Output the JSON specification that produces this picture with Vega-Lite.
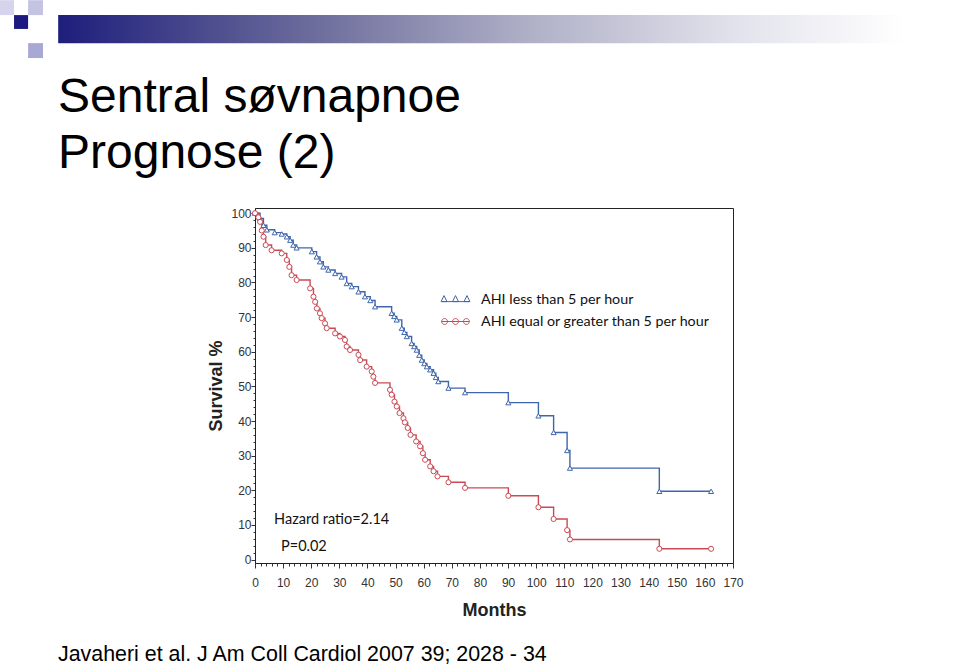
{
  "$schema": "https://vega.github.io/schema/vega-lite/v6.json",
  "autosize": "none",
  "width": 478,
  "height": 355,
  "padding": {"left": 255, "top": 208, "right": 227, "bottom": 102},
  "background": "white",
  "config": {"view": {"stroke": "#222222", "strokeWidth": 1}, "font": "Liberation Sans", "axis": {"labelOverlap": false}},
  "title": {
    "text": ["Sentral søvnapnoe", "Prognose (2)"],
    "anchor": "start",
    "frame": "group",
    "font": "Liberation Sans",
    "fontSize": 48,
    "fontWeight": "normal",
    "color": "#000000",
    "lineHeight": 56,
    "dx": -197,
    "dy": 207.8,
    "offset": 30
  },
  "datasets": {
    "km": [
      {"g": "low", "month": 0, "survival": 100},
      {"g": "low", "month": 1.8, "survival": 98.5},
      {"g": "low", "month": 3.0, "survival": 96.5},
      {"g": "low", "month": 4.2, "survival": 95.2},
      {"g": "low", "month": 7.0, "survival": 94.4},
      {"g": "low", "month": 9.5, "survival": 94.0},
      {"g": "low", "month": 11.3, "survival": 93.2},
      {"g": "low", "month": 12.5, "survival": 92.2},
      {"g": "low", "month": 13.6, "survival": 90.8},
      {"g": "low", "month": 14.8, "survival": 90.0},
      {"g": "low", "month": 20.2, "survival": 88.9},
      {"g": "low", "month": 21.9, "survival": 87.4},
      {"g": "low", "month": 23.1, "survival": 86.0},
      {"g": "low", "month": 24.3, "survival": 84.5},
      {"g": "low", "month": 26.1, "survival": 83.6},
      {"g": "low", "month": 28.5, "survival": 82.6},
      {"g": "low", "month": 30.8, "survival": 81.6},
      {"g": "low", "month": 32.6, "survival": 79.7},
      {"g": "low", "month": 34.4, "survival": 78.8},
      {"g": "low", "month": 36.8, "survival": 77.3},
      {"g": "low", "month": 39.1, "survival": 75.9},
      {"g": "low", "month": 41.0, "survival": 74.8},
      {"g": "low", "month": 42.7, "survival": 73.0},
      {"g": "low", "month": 48.6, "survival": 71.1},
      {"g": "low", "month": 49.5, "survival": 70.2},
      {"g": "low", "month": 50.4, "survival": 69.2},
      {"g": "low", "month": 52.2, "survival": 66.8},
      {"g": "low", "month": 53.1, "survival": 65.6},
      {"g": "low", "month": 54.0, "survival": 64.4},
      {"g": "low", "month": 55.7, "survival": 62.4},
      {"g": "low", "month": 56.6, "survival": 61.5},
      {"g": "low", "month": 57.5, "survival": 60.5},
      {"g": "low", "month": 58.4, "survival": 59.0},
      {"g": "low", "month": 59.3, "survival": 57.6},
      {"g": "low", "month": 60.2, "survival": 56.6},
      {"g": "low", "month": 61.1, "survival": 55.7},
      {"g": "low", "month": 62.3, "survival": 54.8},
      {"g": "low", "month": 63.5, "survival": 53.8},
      {"g": "low", "month": 64.3, "survival": 52.6},
      {"g": "low", "month": 65.2, "survival": 51.4},
      {"g": "low", "month": 68.8, "survival": 49.5},
      {"g": "low", "month": 74.7, "survival": 48.2},
      {"g": "low", "month": 90.1, "survival": 45.3},
      {"g": "low", "month": 100.8, "survival": 41.5},
      {"g": "low", "month": 106.2, "survival": 36.7},
      {"g": "low", "month": 111.0, "survival": 31.5},
      {"g": "low", "month": 112.0, "survival": 26.4},
      {"g": "low", "month": 143.8, "survival": 19.7},
      {"g": "low", "month": 162.2, "survival": 19.7},
      {"g": "high", "month": 0, "survival": 100},
      {"g": "high", "month": 1.2, "survival": 98.8},
      {"g": "high", "month": 1.8, "survival": 97.5},
      {"g": "high", "month": 2.4, "survival": 95.0},
      {"g": "high", "month": 3.0, "survival": 93.2},
      {"g": "high", "month": 3.8, "survival": 90.8},
      {"g": "high", "month": 5.9, "survival": 89.3},
      {"g": "high", "month": 9.5, "survival": 88.4},
      {"g": "high", "month": 11.3, "survival": 86.5},
      {"g": "high", "month": 12.2, "survival": 84.5},
      {"g": "high", "month": 13.0, "survival": 82.1},
      {"g": "high", "month": 14.8, "survival": 80.7},
      {"g": "high", "month": 19.6, "survival": 78.3},
      {"g": "high", "month": 20.8, "survival": 75.9},
      {"g": "high", "month": 21.4, "survival": 74.4},
      {"g": "high", "month": 22.0, "survival": 72.5},
      {"g": "high", "month": 23.1, "survival": 71.1},
      {"g": "high", "month": 23.7, "survival": 69.7},
      {"g": "high", "month": 24.9, "survival": 68.2},
      {"g": "high", "month": 25.5, "survival": 66.8},
      {"g": "high", "month": 28.5, "survival": 65.3},
      {"g": "high", "month": 30.2, "survival": 64.4},
      {"g": "high", "month": 32.0, "survival": 63.4},
      {"g": "high", "month": 32.6, "survival": 61.5},
      {"g": "high", "month": 33.8, "survival": 60.5},
      {"g": "high", "month": 36.8, "survival": 59.1},
      {"g": "high", "month": 37.4, "survival": 57.6},
      {"g": "high", "month": 39.7, "survival": 55.7},
      {"g": "high", "month": 41.5, "survival": 54.3},
      {"g": "high", "month": 42.1, "survival": 52.8},
      {"g": "high", "month": 42.7, "survival": 51.0},
      {"g": "high", "month": 48.0, "survival": 49.0},
      {"g": "high", "month": 48.6, "survival": 47.6},
      {"g": "high", "month": 49.6, "survival": 45.6},
      {"g": "high", "month": 50.4, "survival": 44.2},
      {"g": "high", "month": 51.4, "survival": 42.3},
      {"g": "high", "month": 52.8, "survival": 40.8},
      {"g": "high", "month": 53.3, "survival": 39.6},
      {"g": "high", "month": 54.3, "survival": 38.0},
      {"g": "high", "month": 55.3, "survival": 36.0},
      {"g": "high", "month": 57.3, "survival": 34.1},
      {"g": "high", "month": 58.7, "survival": 32.7},
      {"g": "high", "month": 59.7, "survival": 30.7},
      {"g": "high", "month": 60.5, "survival": 28.8},
      {"g": "high", "month": 62.3, "survival": 26.9},
      {"g": "high", "month": 63.5, "survival": 25.5},
      {"g": "high", "month": 64.9, "survival": 24.0},
      {"g": "high", "month": 68.8, "survival": 22.3},
      {"g": "high", "month": 74.7, "survival": 20.7},
      {"g": "high", "month": 90.1, "survival": 18.4},
      {"g": "high", "month": 100.8, "survival": 15.1},
      {"g": "high", "month": 106.2, "survival": 11.7},
      {"g": "high", "month": 111.0, "survival": 8.5},
      {"g": "high", "month": 112.0, "survival": 5.8},
      {"g": "high", "month": 143.8, "survival": 3.1},
      {"g": "high", "month": 162.2, "survival": 3.1}
    ]
  },
  "layer": [
    {
      "data": {"values": [{}]},
      "mark": {
        "type": "rect",
        "color": {
          "gradient": "linear", "x1": 0, "x2": 1, "y1": 0, "y2": 0,
          "stops": [
            {"offset": 0, "color": "#1e1e7c"},
            {"offset": 0.3, "color": "#6c6c9c"},
            {"offset": 0.55, "color": "#aeaec6"},
            {"offset": 0.8, "color": "#e2e2ec"},
            {"offset": 1, "color": "#ffffff"}
          ]
        }
      },
      "encoding": {
        "x": {"datum": -70, "type": "quantitative", "scale": {"domain": [0, 170], "nice": false, "zero": false}},
        "x2": {"datum": 231},
        "y": {"datum": 157.2, "type": "quantitative", "scale": {"domain": [-1, 101.5], "nice": false, "zero": false}},
        "y2": {"datum": 149.1}
      }
    },
    {
      "data": {"values": [{}]},
      "mark": {"type": "rect", "color": "#d4d4ec"},
      "encoding": {
        "x": {"datum": -90.7, "type": "quantitative"}, "x2": {"datum": -85.7},
        "y": {"datum": 161.5, "type": "quantitative"}, "y2": {"datum": 157.2}
      }
    },
    {
      "data": {"values": [{}]},
      "mark": {"type": "rect", "color": "#c4c4e2"},
      "encoding": {
        "x": {"datum": -80.7, "type": "quantitative"}, "x2": {"datum": -75.4},
        "y": {"datum": 161.5, "type": "quantitative"}, "y2": {"datum": 157.2}
      }
    },
    {
      "data": {"values": [{}]},
      "mark": {"type": "rect", "color": "#1a1a80"},
      "encoding": {
        "x": {"datum": -85.7, "type": "quantitative"}, "x2": {"datum": -80.7},
        "y": {"datum": 157.2, "type": "quantitative"}, "y2": {"datum": 153.2}
      }
    },
    {
      "data": {"values": [{}]},
      "mark": {"type": "rect", "color": "#a8a8d4"},
      "encoding": {
        "x": {"datum": -80.7, "type": "quantitative"}, "x2": {"datum": -75.4},
        "y": {"datum": 149.1, "type": "quantitative"}, "y2": {"datum": 144.8}
      }
    },
    {
      "data": {"name": "km"},
      "mark": {"type": "line", "interpolate": "step-after", "strokeWidth": 1.4},
      "encoding": {
        "x": {
          "field": "month", "type": "quantitative",
          "scale": {"domain": [0, 170], "nice": false, "zero": false},
          "axis": {
            "title": "Months",
            "titleFont": "Liberation Sans", "titleFontSize": 18, "titleFontWeight": "bold", "titleColor": "#222222", "titlePadding": 13,
            "values": [0,2,4,6,8,10,12,14,16,18,20,22,24,26,28,30,32,34,36,38,40,42,44,46,48,50,52,54,56,58,60,62,64,66,68,70,72,74,76,78,80,82,84,86,88,90,92,94,96,98,100,102,104,106,108,110,112,114,116,118,120,122,124,126,128,130,132,134,136,138,140,142,144,146,148,150,152,154,156,158,160,162,164,166,168,170],
            "tickCount": 1000,
            "format": "d",
            "labelExpr": "datum.value % 10 === 0 ? datum.label : ''",
            "tickSize": {"condition": {"test": "datum.value % 10 === 0", "value": 5}, "value": 3},
            "labelFont": "Liberation Sans", "labelFontSize": 12, "labelColor": "#333333",
            "labelPadding": 9, "labelOverlap": false, "labelFlush": false,
            "domainColor": "#222222", "tickColor": "#333333", "grid": false
          }
        },
        "y": {
          "field": "survival", "type": "quantitative",
          "scale": {"domain": [-1, 101.5], "nice": false, "zero": false},
          "axis": {
            "title": "Survival %",
            "titleFont": "Liberation Sans", "titleFontSize": 18, "titleFontWeight": "bold", "titleColor": "#222222", "titlePadding": 5,
            "values": [0,2,4,6,8,10,12,14,16,18,20,22,24,26,28,30,32,34,36,38,40,42,44,46,48,50,52,54,56,58,60,62,64,66,68,70,72,74,76,78,80,82,84,86,88,90,92,94,96,98,100],
            "tickCount": 1000,
            "format": "d",
            "labelExpr": "datum.value % 10 === 0 ? datum.label : ''",
            "tickSize": {"condition": {"test": "datum.value % 10 === 0", "value": 4}, "value": 2},
            "labelFont": "Liberation Sans", "labelFontSize": 12, "labelColor": "#333333",
            "labelPadding": 0, "labelOverlap": false, "labelFlush": false,
            "domainColor": "#222222", "tickColor": "#333333", "grid": false
          }
        },
        "color": {
          "field": "g", "type": "nominal",
          "scale": {"domain": ["low", "high"], "range": ["#3f66ad", "#c94a55"]},
          "legend": {
            "title": null,
            "orient": "none",
            "legendX": 186,
            "legendY": 77,
            "symbolSize": 784,
            "symbolStrokeWidth": 1,
            "rowPadding": 0,
            "labelOffset": 11,
            "labelFont": "Lato",
            "labelFontSize": 14.3,
            "labelColor": "#111111",
            "labelLimit": 400,
            "labelExpr": "datum.value === 'low' ? 'AHI  less than 5 per hour' : 'AHI equal or greater than 5 per hour'",
            "encode": {
              "symbols": {
                "update": {
                  "shape": {"signal": "datum.value === 'high' ? 'M-1,0H1M-0.57,0A0.21,0.21 0 1,1 -0.99,0A0.21,0.21 0 1,1 -0.57,0ZM0.21,0A0.21,0.21 0 1,1 -0.21,0A0.21,0.21 0 1,1 0.21,0ZM0.99,0A0.21,0.21 0 1,1 0.57,0A0.21,0.21 0 1,1 0.99,0Z' : 'M-1,0.15H1M-1.03,0.15L-0.82,-0.28L-0.61,0.15ZM-0.21,0.15L0,-0.28L0.21,0.15ZM0.61,0.15L0.82,-0.28L1.03,0.15Z'"},
                  "fill": {"value": "white"}
                }
              }
            }
          }
        }
      }
    },
    {
      "data": {"name": "km"},
      "transform": [{"filter": "datum.g === 'low'"}],
      "mark": {"type": "point", "shape": "triangle-up", "filled": false, "fill": "white", "strokeWidth": 1, "size": 26, "opacity": 1},
      "encoding": {
        "x": {"field": "month", "type": "quantitative"},
        "y": {"field": "survival", "type": "quantitative"},
        "color": {"field": "g", "type": "nominal", "legend": null}
      }
    },
    {
      "data": {"name": "km"},
      "transform": [{"filter": "datum.g === 'high'"}],
      "mark": {"type": "point", "shape": "circle", "filled": false, "fill": "white", "strokeWidth": 1, "size": 26, "opacity": 1},
      "encoding": {
        "x": {"field": "month", "type": "quantitative"},
        "y": {"field": "survival", "type": "quantitative"},
        "color": {"field": "g", "type": "nominal", "legend": null}
      }
    },
    {
      "data": {"values": [{}]},
      "mark": {"type": "text", "text": "Hazard ratio=2.14", "font": "Lato", "fontSize": 14.5, "color": "#111111", "align": "left", "baseline": "alphabetic"},
      "encoding": {"x": {"datum": 6.8, "type": "quantitative"}, "y": {"datum": 10.3, "type": "quantitative"}}
    },
    {
      "data": {"values": [{}]},
      "mark": {"type": "text", "text": "P=0.02", "font": "Lato", "fontSize": 14.5, "color": "#111111", "align": "left", "baseline": "alphabetic"},
      "encoding": {"x": {"datum": 9.25, "type": "quantitative"}, "y": {"datum": 2.5, "type": "quantitative"}}
    },
    {
      "data": {"values": [{}]},
      "mark": {"type": "text", "text": "Javaheri et al. J Am Coll Cardiol 2007 39; 2028 - 34", "font": "Liberation Sans", "fontSize": 21.4, "color": "#000000", "align": "left", "baseline": "alphabetic"},
      "encoding": {"x": {"datum": -70.06, "type": "quantitative"}, "y": {"datum": -29.3, "type": "quantitative"}}
    }
  ]
}
